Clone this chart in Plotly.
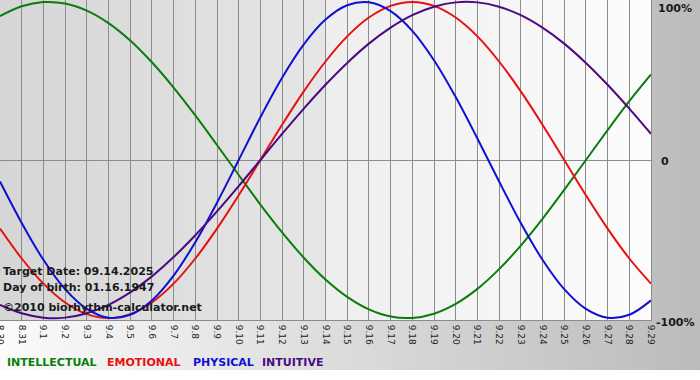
import base64
import plotly.graph_objects as go

# ---------------- data ----------------
dates = ["8.30", "8.31", "9.1", "9.2", "9.3", "9.4", "9.5", "9.6", "9.7", "9.8",
         "9.9", "9.10", "9.11", "9.12", "9.13", "9.14", "9.15", "9.16", "9.17", "9.18",
         "9.19", "9.20", "9.21", "9.22", "9.23", "9.24", "9.25", "9.26", "9.27", "9.28", "9.29"]

intellectual = [0.910, 0.972, 0.999, 0.990, 0.945, 0.866, 0.756, 0.618, 0.458, 0.282,
                0.095, -0.095, -0.282, -0.458, -0.618, -0.756, -0.866, -0.945, -0.990, -0.999,
                -0.972, -0.910, -0.815, -0.690, -0.541, -0.372, -0.189, 0.000, 0.189, 0.372, 0.541]

emotional = [-0.434, -0.623, -0.782, -0.901, -0.975, -1.000, -0.975, -0.901, -0.782, -0.623,
             -0.434, -0.223, 0.000, 0.223, 0.434, 0.623, 0.782, 0.901, 0.975, 1.000,
             0.975, 0.901, 0.782, 0.623, 0.434, 0.223, 0.000, -0.223, -0.434, -0.623, -0.782]

physical = [-0.136, -0.398, -0.631, -0.817, -0.942, -0.998, -0.979, -0.888, -0.731, -0.520,
            -0.270, 0.000, 0.270, 0.520, 0.731, 0.888, 0.979, 0.998, 0.942, 0.817,
            0.631, 0.398, 0.136, -0.136, -0.398, -0.631, -0.817, -0.942, -0.998, -0.979, -0.888]

intuitive = [-0.916, -0.969, -0.997, -0.997, -0.969, -0.916, -0.837, -0.736, -0.614, -0.476,
             -0.325, -0.165, 0.000, 0.165, 0.325, 0.476, 0.614, 0.736, 0.837, 0.916,
             0.969, 0.997, 0.997, 0.969, 0.916, 0.837, 0.736, 0.614, 0.476, 0.325, 0.165]

target_index = 15
y_labels = ["100%", "0", "-100%"]
legend_names = ["INTELLECTUAL", "EMOTIONAL", "PHYSICAL", "INTUITIVE"]
info_lines = ["Target Date: 09.14.2025", "Day of birth: 01.16.1947", "©2010 biorhythm-calculator.net"]

# ---------------- styling ----------------
W, H = 700, 380
PW, PH = 651, 320   # plot area in px
FONT = "DejaVu Sans"
colors = {"INTELLECTUAL": "#0a7d0a", "EMOTIONAL": "#e81010", "PHYSICAL": "#1010d0", "INTUITIVE": "#4b0a82"}


def grad(c1, c2):
    svg = ('<svg xmlns="http://www.w3.org/2000/svg" width="100" height="100" viewBox="0 0 100 100" '
           'preserveAspectRatio="none"><defs><linearGradient id="g" x1="0" y1="0" x2="1" y2="0">'
           f'<stop offset="0" stop-color="{c1}"/><stop offset="1" stop-color="{c2}"/>'
           '</linearGradient></defs><rect width="100" height="100" fill="url(#g)"/></svg>')
    return "data:image/svg+xml;base64," + base64.b64encode(svg.encode()).decode()


def px(xp):
    return xp / PW


def py(yp):
    return (PH - yp) / PH


x = list(range(len(dates)))
fig = go.Figure()
for name, vals in zip(legend_names, [intellectual, emotional, physical, intuitive]):
    fig.add_trace(go.Scatter(x=x, y=vals, mode="lines", line=dict(color=colors[name], width=2, shape="spline", smoothing=1.0),
                             name=name, showlegend=False, hoverinfo="skip"))

images = [
    dict(source=grad("#fbfbfb", "#bbbbbb"), xref="paper", yref="paper", x=0, y=1,
         sizex=W / PW, sizey=(370) / PH, sizing="stretch", xanchor="left", yanchor="top", layer="below"),
    dict(source=grad("#d6d6d6", "#e6e6e6"), xref="x", yref="y", x=0, y=1.02,
         sizex=target_index, sizey=2.04, sizing="stretch", xanchor="left", yanchor="top", layer="below"),
    dict(source=grad("#eeeeee", "#fcfcfc"), xref="x", yref="y", x=target_index, y=1.02,
         sizex=len(dates) - 1 - target_index, sizey=2.04, sizing="stretch", xanchor="left", yanchor="top", layer="below"),
]

annotations = []
for txt, yp in zip(info_lines, [271, 287, 307]):
    annotations.append(dict(text=txt, xref="paper", yref="paper", x=px(1), y=py(yp), xanchor="left", yanchor="middle",
                            showarrow=False, font=dict(family=FONT, size=11, color="#1a1a1a", weight="bold")))
for name, xp in zip(legend_names, [5, 105, 191, 260]):
    annotations.append(dict(text=name, xref="paper", yref="paper", x=px(xp), y=py(362), xanchor="left", yanchor="middle",
                            showarrow=False, font=dict(family=FONT, size=11, color=colors[name], weight="bold")))
for txt, xp, yp in zip(y_labels, [656, 659, 654], [8, 161, 322]):
    annotations.append(dict(text=txt, xref="paper", yref="paper", x=px(xp), y=py(yp), xanchor="left", yanchor="middle",
                            showarrow=False, font=dict(family=FONT, size=11, color="#1a1a1a", weight="bold")))

fig.update_layout(
    width=W, height=H,
    margin=dict(l=0, r=W - PW, t=0, b=H - PH, pad=0, autoexpand=False),
    paper_bgcolor="white", plot_bgcolor="rgba(0,0,0,0)",
    images=images, annotations=annotations,
    shapes=[dict(type="line", xref="x", yref="paper", x0=target_index, x1=target_index, y0=0, y1=1,
                 line=dict(color="#7a1414", width=2), layer="between")],
    xaxis=dict(range=[0, len(dates) - 1], tickmode="array", tickvals=x, ticktext=dates, tickangle=90,
               showgrid=True, gridcolor="#8c8c8c", gridwidth=1, zeroline=False, automargin=False,
               showline=True, mirror=True, linecolor="#8c8c8c", linewidth=1,
               ticks="outside", ticklen=2, tickcolor="rgba(0,0,0,0)", ticklabeloverflow="allow",
               tickfont=dict(family=FONT, size=9, color="#222222"), fixedrange=True),
    yaxis=dict(range=[-1.012, 1.012], tickmode="array", tickvals=[0], showticklabels=False,
               showgrid=True, gridcolor="#8c8c8c", gridwidth=1, zeroline=False, automargin=False,
               showline=True, mirror=True, linecolor="#8c8c8c", linewidth=1, fixedrange=True),
    showlegend=False,
)

fig.write_html("out.html", config={"displayModeBar": False},
               post_script="document.body.style.margin='0';document.body.style.padding='0';")
